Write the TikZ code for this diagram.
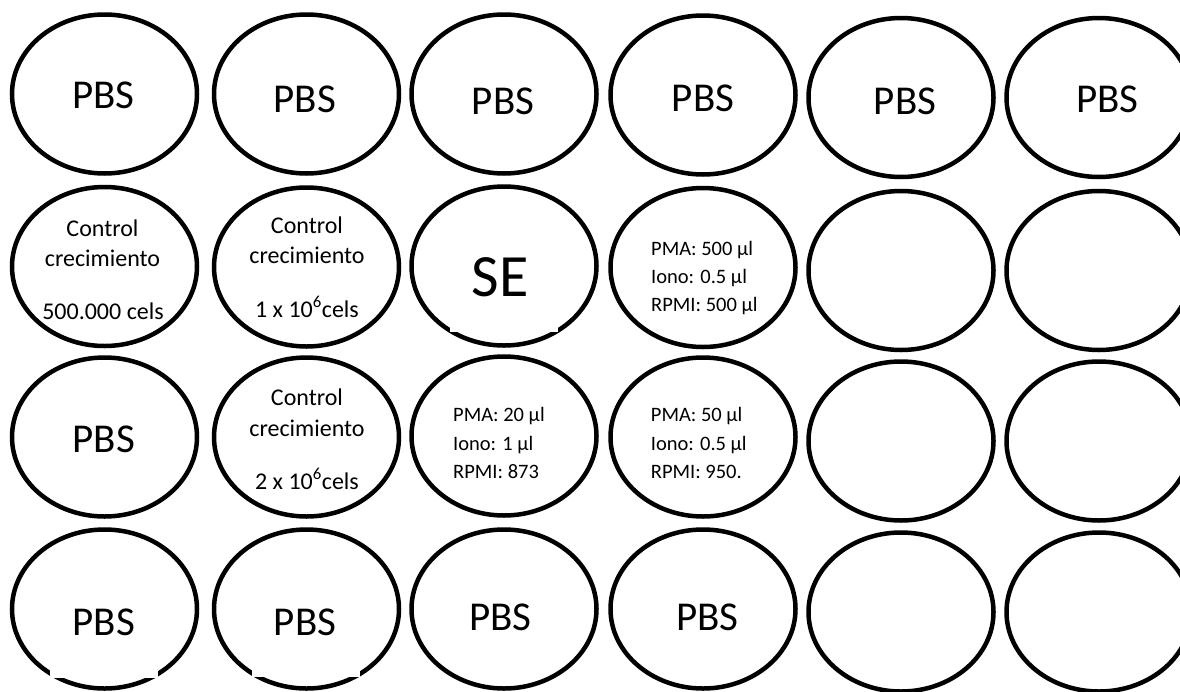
\documentclass[tikz,border=0pt]{standalone}
\usepackage{fontspec}
\setmainfont{Carlito}
\usetikzlibrary{shapes.geometric}
\tikzset{
  well/.style={draw=black, line width=4.5pt, ellipse, minimum width=185pt, minimum height=159pt, inner sep=0pt},
  bigtxt/.style={font=\fontsize{41}{49}\selectfont, anchor=base, inner sep=0pt},
  setxt/.style={font=\fontsize{60}{72}\selectfont, anchor=base, inner sep=0pt},
  midtxt/.style={font=\fontsize{24}{29}\selectfont, anchor=base, inner sep=0pt},
  smalltxt/.style={font=\fontsize{20.5}{25}\selectfont, anchor=base west, inner sep=0pt},
  notch/.style={fill=white, draw=none}
}
\begin{document}
\begin{tikzpicture}[x=1pt, y=-1pt]
\useasboundingbox (0,0) rectangle (1180,691);
\clip (0,0) rectangle (1180,691);
% row 1
\node[well] (w11) at (104.5,94) {};
\node[well] (w12) at (306.5,94) {};
\node[well] (w13) at (504,94) {};
\node[well] (w14) at (703,95) {};
\node[well] (w15) at (901,97.5) {};
\node[well] (w16) at (1099,97.5) {};
% row 2
\node[well] (w21) at (104.5,266.5) {};
\node[well] (w22) at (306.5,267) {};
\node[well] (w23) at (504,266) {};
\node[well] (w24) at (703,267.5) {};
\node[well] (w25) at (901,270.5) {};
\node[well] (w26) at (1099,270.5) {};
% row 3
\node[well] (w31) at (104.5,437) {};
\node[well] (w32) at (306.5,437) {};
\node[well] (w33) at (504,436) {};
\node[well] (w34) at (703,437) {};
\node[well] (w35) at (901,441) {};
\node[well] (w36) at (1099,441) {};
% row 4
\node[well] (w41) at (104.5,609) {};
\node[well] (w42) at (306.5,609) {};
\node[well] (w43) at (504,609) {};
\node[well] (w44) at (703,609) {};
\node[well] (w45) at (901,612) {};
\node[well] (w46) at (1099,612) {};
% white gaps in some outlines
\fill[notch] (50,655) rectangle (158,678);
\fill[notch] (252,655) rectangle (360,677);
\fill[notch] (450,310) rectangle (558,332);
% row 1 texts
\node[bigtxt] (t11) at (103.5,108) {PBS};
\node[bigtxt] (t12) at (304.7,112) {PBS};
\node[bigtxt] (t13) at (503,114) {PBS};
\node[bigtxt] (t14) at (703,111) {PBS};
\node[bigtxt] (t15) at (905,114) {PBS};
\node[bigtxt] (t16) at (1107.5,112) {PBS};
% row 2 texts
\node[midtxt] (t21a) at (102.5,236.7) {Control};
\node[midtxt] (t21b) at (102.5,266.7) {crecimiento};
\node[midtxt] (t21c) at (103,319) {500.000 cels};
\node[midtxt] (t22a) at (307,233) {Control};
\node[midtxt] (t22b) at (307,263) {crecimiento};
\node[midtxt] (t22c) at (307,317) {1 x 10\textsuperscript{6}cels};
\node[setxt] (t23) at (500,296.7) {SE};
\node[smalltxt] (t24a) at (651,255) {PMA: 500 µl};
\node[smalltxt] (t24b) at (651,283) {Iono: 0.5 µl};
\node[smalltxt] (t24c) at (651,311.7) {RPMI: 500 µl};
% row 3 texts
\node[bigtxt] (t31) at (103.8,452.7) {PBS};
\node[midtxt] (t32a) at (307,405) {Control};
\node[midtxt] (t32b) at (307,436.7) {crecimiento};
\node[midtxt] (t32c) at (307,489) {2 x 10\textsuperscript{6}cels};
\node[smalltxt] (t33a) at (453,421.7) {PMA: 20 µl};
\node[smalltxt] (t33b) at (453,450) {Iono: 1 µl};
\node[smalltxt] (t33c) at (453,478) {RPMI: 873};
\node[smalltxt] (t34a) at (650.7,421.7) {PMA: 50 µl};
\node[smalltxt] (t34b) at (650.7,450) {Iono: 0.5 µl};
\node[smalltxt] (t34c) at (650.7,478) {RPMI: 950.};
% row 4 texts
\node[bigtxt] (t41) at (103.8,635) {PBS};
\node[bigtxt] (t42) at (305,635) {PBS};
\node[bigtxt] (t43) at (500.5,630) {PBS};
\node[bigtxt] (t44) at (707.5,630) {PBS};
\end{tikzpicture}
\end{document}
